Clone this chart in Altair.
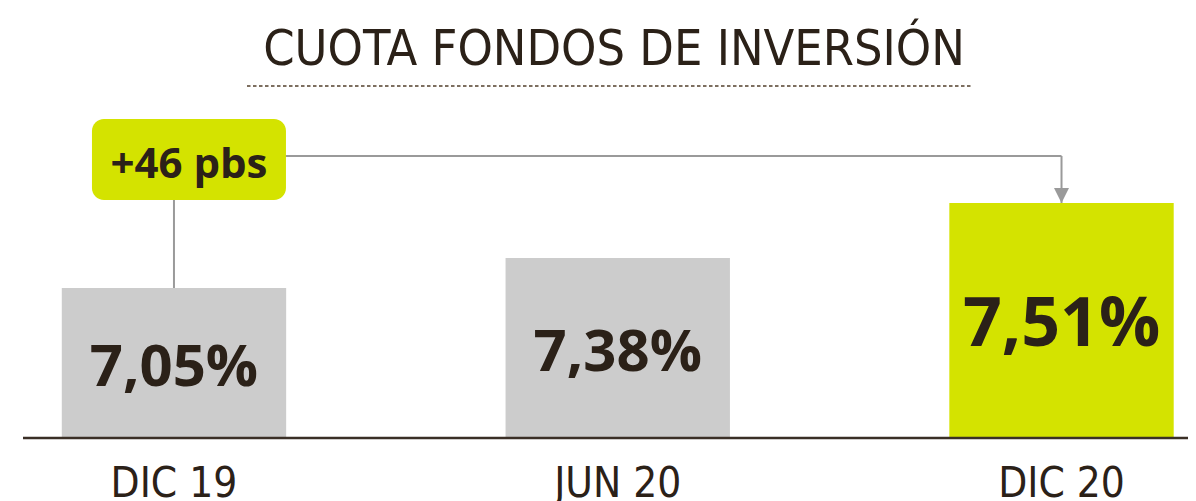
import altair as alt
import numpy as np
import pandas as pd

# ---- data ----
periods = ["DIC 19", "JUN 20", "DIC 20"]
values = [7.05, 7.38, 7.51]
highlight = "DIC 20"
title_text = "CUOTA FONDOS DE INVERSIÓN"

# ---- styling ----
GRAY = "#cccccc"
GREEN = "#d4e300"
DARK = "#2b2118"
LINE = "#9a9a9a"
DOTS = "#7d6f60"
NARROW = "DejaVu Sans Condensed, Liberation Sans Narrow, Roboto, sans-serif"
BOLD = "Open Sans, DejaVu Sans, sans-serif"

# The original graphic exaggerates differences; a steep power scale reproduces it.
P = 56.8
DMIN = -7.57958
DMAX = 7.62316
W, H = 1180, 352


def f(x):
    return np.sign(x) * np.abs(x) ** P


def finv(y):
    return np.sign(y) * np.abs(y) ** (1.0 / P)


vals = np.array(values)
centers = finv((f(vals) + f(DMIN)) / 2.0)  # data value at middle of each bar
labels = [f"{v:.2f}".replace(".", ",") + "%" for v in values]

df = pd.DataFrame({"periodo": periods, "cuota": values,
                   "etiqueta": labels, "centro": centers, "base": [DMIN] * 3})

ann = pd.DataFrame({
    "desde": [periods[0]],
    "hasta": [periods[-1]],
    "v_desde": [values[0]],
    "v_hasta": [values[-1]],
    "base": [DMIN],
    "texto": [f"+{round((values[-1] - values[0]) * 100)} pbs"],
})

x_scale = alt.Scale(domain=periods, paddingInner=0.4944, paddingOuter=0.0767, align=0.79)
y_scale = alt.Scale(type="pow", exponent=P, domain=[DMIN, DMAX], zero=False, nice=False)
x_axis = alt.Axis(title=None, domain=False, ticks=False, tickSize=0, grid=False,
                  labelAngle=0, labelFont=NARROW, labelFontSize=42,
                  labelFontWeight="normal", labelColor=DARK, labelPadding=25)


def X(field):
    return alt.X(field, scale=x_scale, sort=periods, axis=x_axis)


is_hl = alt.datum.periodo == highlight

bars = alt.Chart(df).mark_bar().encode(
    x=X("periodo:N"),
    y=alt.Y("cuota:Q", scale=y_scale, axis=None),
    y2="base:Q",
    color=alt.condition(is_hl, alt.value(GREEN), alt.value(GRAY)),
)

baseline = alt.Chart(ann).mark_rule(color="#3a2f26", strokeWidth=2.5).encode(
    x=alt.value(15), x2=alt.value(W),
    y=alt.Y("base:Q", scale=y_scale, axis=None),
)

value_text = alt.Chart(df).mark_text(font=BOLD, fontWeight="bold", baseline="middle",
                                     dy=6, color=DARK).encode(
    x=X("periodo:N"),
    y=alt.Y("centro:Q", scale=y_scale, axis=None),
    text="etiqueta:N",
    size=alt.condition(is_hl, alt.value(68), alt.value(58)),
)

dotted = alt.Chart(ann).mark_rule(color=DOTS, strokeWidth=2, strokeDash=[3.5, 2.5]).encode(
    x=alt.value(239), x2=alt.value(964), y=alt.value(0),
)

box = alt.Chart(ann).mark_bar(color=GREEN, cornerRadius=12, width=194, xOffset=15).encode(
    x=X("desde:N"),
    y=alt.value(33), y2=alt.value(114),
)

box_text = alt.Chart(ann).mark_text(font=BOLD, fontWeight="bold", fontSize=42,
                                    baseline="alphabetic", color=DARK, dx=15).encode(
    x=X("desde:N"),
    y=alt.value(92),
    text="texto:N",
)

connector = alt.Chart(ann).mark_rule(color=LINE, strokeWidth=2).encode(
    x=X("desde:N"),
    y=alt.Y("v_desde:Q", scale=y_scale, axis=None),
    y2=alt.value(114),
)

horizontal = alt.Chart(ann).mark_rule(color=LINE, strokeWidth=2).encode(
    x=X("desde:N"),
    x2="hasta:N",
    y=alt.value(70),
)

down = alt.Chart(ann).mark_rule(color=LINE, strokeWidth=2).encode(
    x=X("hasta:N"),
    y=alt.Y("v_hasta:Q", scale=y_scale, axis=None),
    y2=alt.value(70),
)

arrow = alt.Chart(ann).mark_point(shape="M-1,-2L1,-2L0,0Z", filled=True, size=225,
                                  opacity=1, color=LINE).encode(
    x=X("hasta:N"),
    y=alt.Y("v_hasta:Q", scale=y_scale, axis=None),
)

chart = alt.layer(
    dotted, bars, baseline, value_text, connector, horizontal, down, arrow, box, box_text
).properties(
    width=W, height=H,
    padding={"left": 0, "right": 0, "top": 78, "bottom": 63},
    autosize=alt.AutoSizeParams(type="none"),
    background="white",
    title=alt.TitleParams(title_text, font=NARROW, fontSize=50, fontWeight="normal",
                          color=DARK, anchor="middle", baseline="alphabetic",
                          offset=18, dx=16, dy=48),
).configure_view(stroke=None)

chart.save("out.html", embed_options={"renderer": "svg", "actions": False})
